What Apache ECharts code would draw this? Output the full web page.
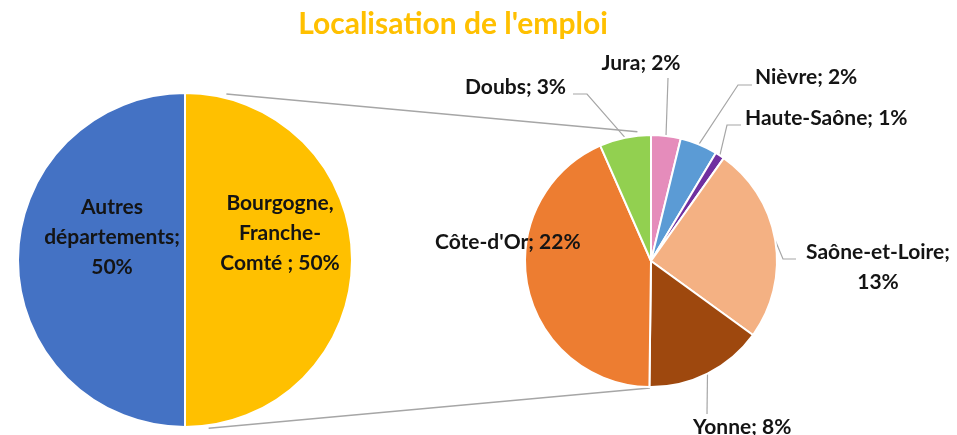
<!DOCTYPE html>
<html>
<head>
<meta charset="utf-8">
<script src="https://cdn.jsdelivr.net/npm/echarts@6/dist/echarts.min.js"></script>
<style>
  html, body { margin: 0; padding: 0; background: #fff; }
  #chart { width: 957px; height: 435px; }
</style>
</head>
<body>
<div id="chart"></div>
<script>
// main pie: share of jobs
const mainNames = ['Bourgogne, Franche-Comté ', 'Autres départements'];
const mainValues = [50, 50];
const mainColors = ['#FFC000', '#4472C4'];

// second pie: breakdown of the Bourgogne-Franche-Comté share
const subNames = ['Jura', 'Nièvre', 'Haute-Saône', 'Saône-et-Loire', 'Yonne', "Côte-d'Or", 'Doubs'];
const subValues = [1.9, 2.4, 0.6, 12.6, 7.6, 21.6, 3.3];
const subColors = ['#E58CBB', '#5B9BD5', '#7030A0', '#F4B183', '#9E480E', '#ED7D31', '#92D050'];

const LEFT = { cx: 185, cy: 260, r: 167 };
const RIGHT = { cx: 651, cy: 261, r: 126 };
const FONT = 'Lato, "Open Sans", sans-serif';
const LINE = '#A6A6A6';

// label text with line breaks, where the chart wraps them
const wrapText = {
  'Bourgogne, Franche-Comté ': 'Bourgogne,\nFranche-\nComté ; {p}',
  'Autres départements': 'Autres\ndépartements;\n{p}',
  'Saône-et-Loire': 'Saône-et-Loire;\n{p}'
};

// where each label sits, and the elbow of its leader line
const spots = {
  'Bourgogne, Franche-Comté ': { x: 280, y: 233, align: 'center' },
  'Autres départements': { x: 112, y: 237, align: 'center' },
  'Jura': { x: 641, y: 63, align: 'center', elbow: [[668, 78], [668, 78]] },
  'Nièvre': { x: 755, y: 77, align: 'left', elbow: [[738, 85], [752, 85]] },
  'Haute-Saône': { x: 745, y: 118, align: 'left', elbow: [[727, 125], [741, 125]] },
  'Saône-et-Loire': { x: 878, y: 267, align: 'center', elbow: [[783, 259], [796, 259]] },
  'Yonne': { x: 693, y: 427, align: 'left', elbow: [[707, 414], [707, 414]] },
  "Côte-d'Or": { x: 435, y: 242, align: 'left' },
  'Doubs': { x: 465, y: 87, align: 'left', elbow: [[587, 94], [573, 94]] }
};

function polar(p, deg, rr) {
  const a = deg * Math.PI / 180;
  return [p.cx + rr * Math.sin(a), p.cy - rr * Math.cos(a)];
}

// middle of each slice on the outer edge of the second pie
const subTotal = subValues.reduce((a, b) => a + b, 0);
const subMid = [];
let acc = 0;
subValues.forEach(v => {
  subMid.push(polar(RIGHT, (acc + v / 2) / subTotal * 360, RIGHT.r));
  acc += v;
});

function labelText(p) {
  const pct = Math.round(p.value) + '%';
  const t = wrapText[p.name];
  return t ? t.replace('{p}', pct) : p.name + '; ' + pct;
}

const labelStyle = {
  formatter: labelText,
  fontFamily: FONT,
  fontWeight: 'bold',
  fontSize: 21,
  lineHeight: 30,
  color: '#141414'
};

function placeLabel(names, withLines) {
  return function (params) {
    const s = spots[names[params.dataIndex]];
    const out = { x: s.x, y: s.y, align: s.align, verticalAlign: 'middle' };
    if (withLines && s.elbow) {
      out.labelLinePoints = [subMid[params.dataIndex]].concat(s.elbow);
    }
    return out;
  };
}

const chart = echarts.init(document.getElementById('chart'));
chart.setOption({
  animation: false,
  graphic: [
    {
      type: 'text', x: 453, y: 24,
      style: {
        text: "Localisation de l'emploi", fill: '#FFC000',
        font: 'bold 30px ' + FONT, textAlign: 'center', textVerticalAlign: 'middle'
      }
    },
    {
      type: 'line', z: -1,
      shape: (() => { const a = polar(LEFT, 14, 171), b = polar(RIGHT, -6, 130); return { x1: a[0], y1: a[1], x2: b[0], y2: b[1] }; })(),
      style: { stroke: LINE, lineWidth: 1.5 }
    },
    {
      type: 'line', z: -1,
      shape: (() => { const a = polar(LEFT, 172, 170), b = polar(RIGHT, 180.5, 127); return { x1: a[0], y1: a[1], x2: b[0], y2: b[1] }; })(),
      style: { stroke: LINE, lineWidth: 1.5 }
    }
  ],
  series: [
    {
      type: 'pie',
      center: [LEFT.cx, LEFT.cy],
      radius: LEFT.r,
      startAngle: 90,
      avoidLabelOverlap: false,
      itemStyle: { borderColor: '#fff', borderWidth: 2 },
      label: Object.assign({ position: 'inside' }, labelStyle),
      labelLine: { show: false },
      labelLayout: placeLabel(mainNames, false),
      emphasis: { disabled: true },
      data: mainNames.map((n, i) => ({ name: n, value: mainValues[i], itemStyle: { color: mainColors[i] } }))
    },
    {
      type: 'pie',
      center: [RIGHT.cx, RIGHT.cy],
      radius: RIGHT.r,
      startAngle: 90,
      avoidLabelOverlap: false,
      itemStyle: { borderColor: '#fff', borderWidth: 2 },
      label: Object.assign({ position: 'outside' }, labelStyle),
      labelLine: { show: true, lineStyle: { color: LINE, width: 1.2 } },
      labelLayout: placeLabel(subNames, true),
      emphasis: { disabled: true },
      data: subNames.map((n, i) => ({
        name: n,
        value: subValues[i],
        itemStyle: { color: subColors[i] },
        labelLine: spots[n].elbow ? undefined : { show: false }
      }))
    }
  ]
});
</script>
</body>
</html>
